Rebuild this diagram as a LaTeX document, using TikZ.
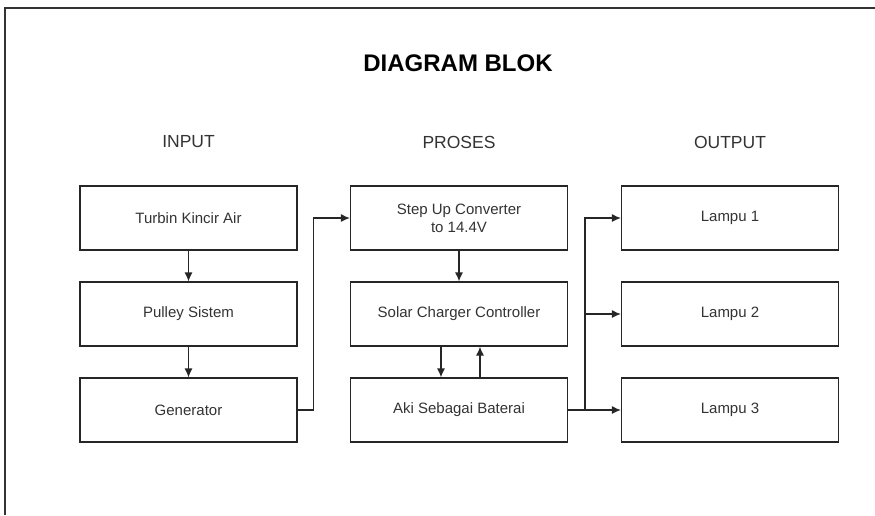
\documentclass[tikz,border=0pt]{standalone}
\usepackage{fontspec}
\setmainfont{Liberation Sans}
\usetikzlibrary{arrows.meta,calc,positioning}

\begin{document}
\begin{tikzpicture}[x=1pt,y=-1pt,
    blok/.style={draw=black!85, line width=1.2pt, minimum width=217pt, minimum height=64pt,
      inner sep=0pt, align=center, text=black!80, font=\fontsize{15}{18}\selectfont},
    judul/.style={text=black!80, font=\fontsize{17.5}{20}\selectfont},
    panah/.style={-{Latex[length=9pt,width=8pt]}, line width=1.2pt, draw=black!85}]

  \useasboundingbox (0,0) rectangle (875,515);

  % frame
  \draw[line width=1.3pt, black!80] (5,515) -- (5,8) -- (875,8);

  \node[font=\bfseries\fontsize{24}{28}\selectfont] (title) at (458,63) {DIAGRAM BLOK};

  % column heads
  \node[judul] (input)  at (188.5,142) {INPUT};
  \node[judul] (proses) at (459,142) {PROSES};
  \node[judul] (output) at (730,142) {OUTPUT};

  % input
  \node[blok] (turbin)    at (188.5,218) {Turbin Kincir Air};
  \node[blok] (pulley)    at (188.5,314) {Pulley Sistem};
  \node[blok] (generator) at (188.5,410) {Generator};

  % proses
  \node[blok] (stepup) at (459,218) {Step Up Converter\\to 14.4V};
  \node[blok] (scc)    at (459,314) {Solar Charger Controller};
  \node[blok] (aki)    at (459,410) {Aki Sebagai Baterai};

  % output
  \foreach \n [count=\ni] in {1,2,3}
    \node[blok] (lampu\ni) at (730,{218+96*(\ni-1)}) {Lampu \n};

  % connectors
  \draw[panah] (turbin) -- (pulley);
  \draw[panah] (pulley) -- (generator);
  \draw[panah] (generator.east) -- ++(16,0) |- (stepup.west);
  \draw[panah] (stepup) -- (scc);
  \draw[panah] ([xshift=-18pt]scc.south) -- ([xshift=-18pt]aki.north);
  \draw[panah] ([xshift=21pt]aki.north) -- ([xshift=21pt]scc.south);

  \coordinate (cabang) at ($(aki.east)!0.32!(lampu3.west)$);
  \draw[panah] (aki) -- (lampu3);
  \foreach \ni in {1,2}
    \draw[panah] (cabang) |- (lampu\ni.west);

\end{tikzpicture}
\end{document}
